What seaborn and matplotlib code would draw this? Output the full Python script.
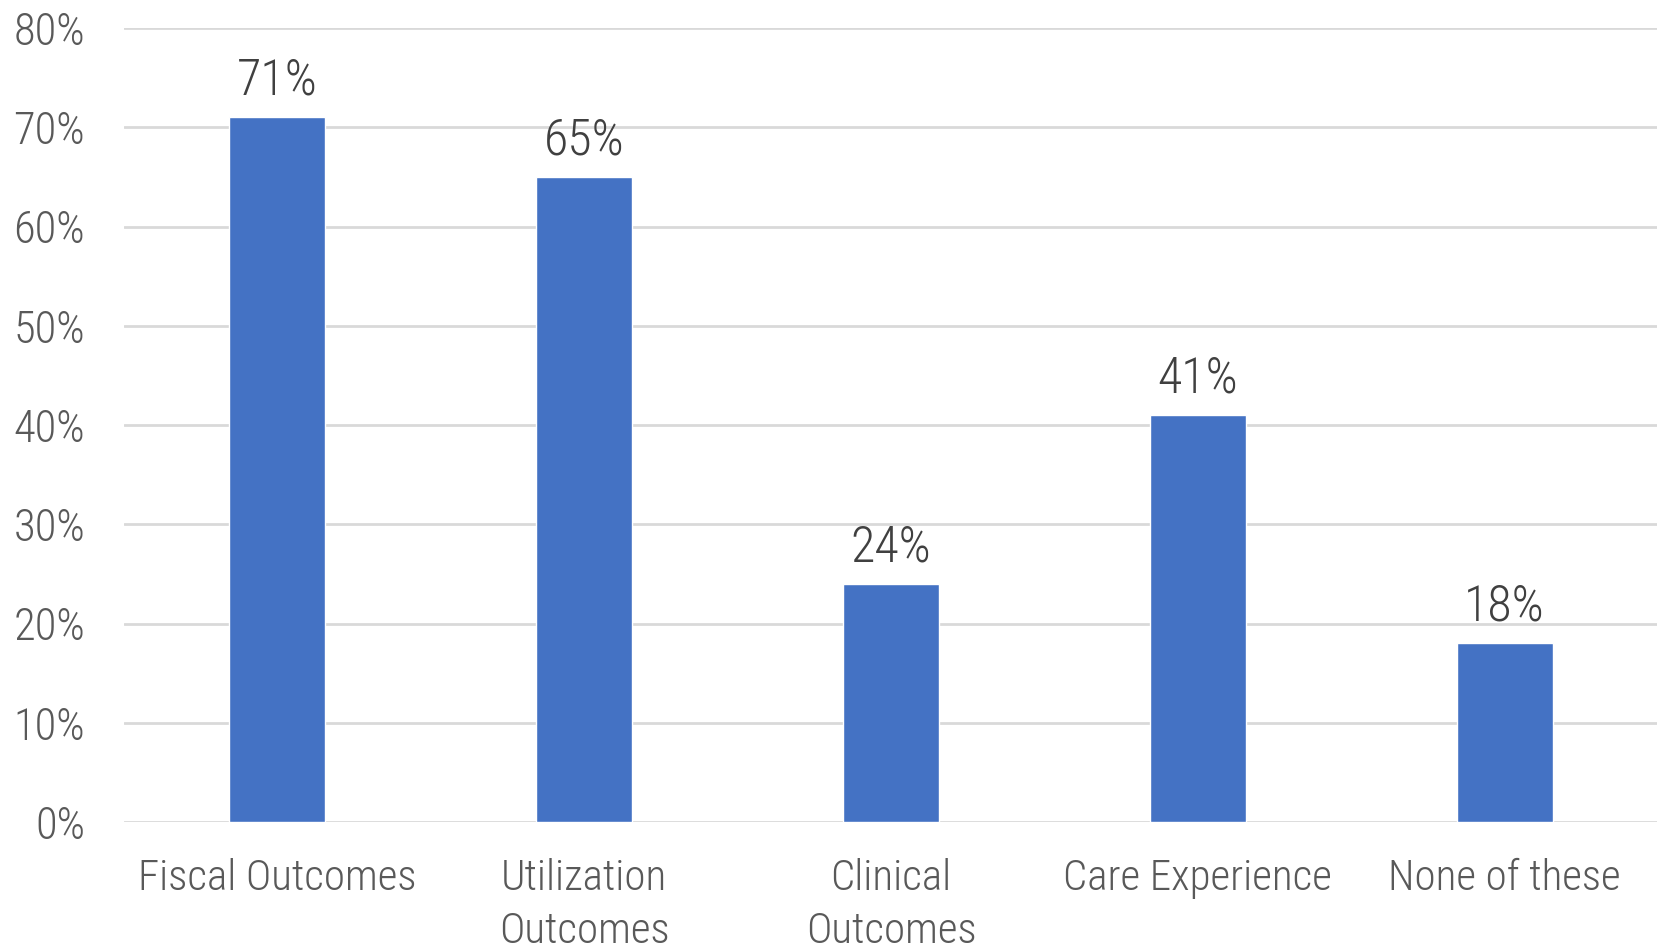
import matplotlib
matplotlib.use("Agg")
import matplotlib.pyplot as plt
import seaborn as sns
import pandas as pd
from matplotlib.ticker import PercentFormatter

categories = ["Fiscal Outcomes", "Utilization\nOutcomes", "Clinical\nOutcomes",
              "Care Experience", "None of these"]
shares = [71, 65, 24, 41, 18]
y_ticks = [0, 10, 20, 30, 40, 50, 60, 70, 80]

sns.set_theme(style="white")
plt.rcParams["font.family"] = ["Roboto Condensed", "Roboto", "DejaVu Sans"]
plt.rcParams["font.weight"] = "light"

df = pd.DataFrame({"category": categories, "share": shares})

fig = plt.figure(figsize=(16.58, 9.47), dpi=100)
ax = fig.add_axes([0.0748, 0.132, 0.9252, 0.8384])

sns.barplot(data=df, x="category", y="share", color="#4472C4", width=0.313,
            saturation=1, ax=ax, zorder=3)

ax.set_ylim(0, 80)
ax.set_yticks(y_ticks)
ax.yaxis.set_major_formatter(PercentFormatter(decimals=0))
ax.grid(axis="y", color="#d9d9d9", linewidth=2, zorder=0)
ax.set_axisbelow(True)
for s in ax.spines.values():
    s.set_visible(False)
ax.set_xlabel("")
ax.set_ylabel("")
ax.tick_params(axis="y", length=0, pad=28, labelsize=32, labelcolor="#595959")
ax.tick_params(axis="x", length=0, pad=26, labelsize=31, labelcolor="#595959")
for lbl in ax.get_xticklabels() + ax.get_yticklabels():
    lbl.set_fontweight("light")
for lbl in ax.get_xticklabels():
    lbl.set_linespacing(1.38)

for bar, v in zip(ax.patches, shares):
    ax.annotate(f"{v}%", (bar.get_x() + bar.get_width() / 2, v),
                xytext=(0, 9), textcoords="offset points",
                ha="center", va="bottom", fontsize=36, fontweight="light",
                color="#404040")

fig.savefig("out.png", dpi=100)
